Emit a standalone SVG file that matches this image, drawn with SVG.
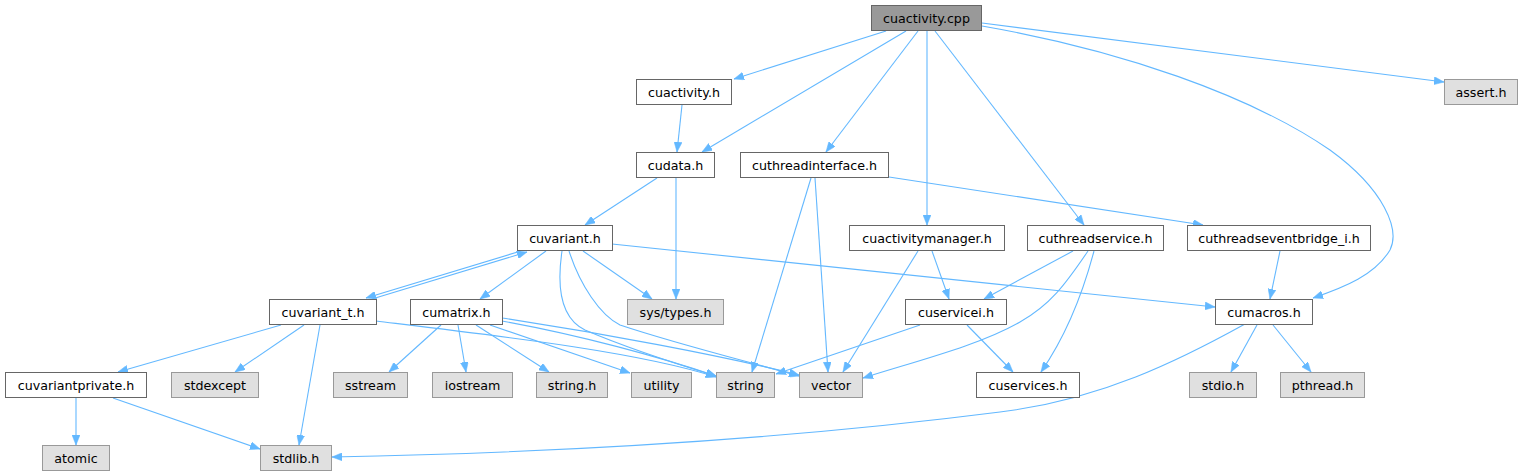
<svg xmlns="http://www.w3.org/2000/svg" width="1532" height="476" viewBox="0 0 1532 476">
<defs>
<marker id="arr" viewBox="0 0 10 8" refX="10" refY="4" markerWidth="10" markerHeight="8" markerUnits="userSpaceOnUse" orient="auto">
<path d="M0,0 L10,4 L0,8 z" fill="#63b8ff" stroke="#63b8ff" stroke-width="0.5"/>
</marker>
</defs>
<style>
.n rect{fill:#ffffff;stroke:#666666;stroke-width:1}
.s rect{fill:#e0e0e0;stroke:#999999;stroke-width:1}
.r rect{fill:#999999;stroke:#666666;stroke-width:1}
text{font-family:"DejaVu Sans","Liberation Sans",sans-serif;font-size:12.67px;fill:#000000;text-anchor:middle}
#edges path{fill:none;stroke:#63b8ff;stroke-width:1.1;marker-end:url(#arr)}
</style>
<rect width="1532" height="476" fill="#ffffff"/>
<g id="edges">
<path d="M886,31 L734,79"/>
<path d="M906,31 L702,152"/>
<path d="M918,31 L826,152"/>
<path d="M927,31 L927,225"/>
<path d="M935,31 L1084,225"/>
<path d="M982,23 L1444,82"/>
<path d="M982,26 C1120,50 1250,95 1330,150 C1385,190 1400,230 1390,250 C1375,275 1345,287 1313,298"/>
<path d="M682,105 L677,152"/>
<path d="M657,178 L585,225"/>
<path d="M676,178 L676,299"/>
<path d="M811,178 L752,372"/>
<path d="M815,178 L828,372"/>
<path d="M889,177 L1203,225"/>
<path d="M918,251 L843,372"/>
<path d="M932,251 L949,299"/>
<path d="M1073,251 L984,299"/>
<path d="M1088,251 C1065,285 1050,305 1020,322 C980,345 920,360 863,378"/>
<path d="M1094,251 C1085,285 1070,330 1041,372"/>
<path d="M1280,251 L1270,299"/>
<path d="M612,244 L1215,307"/>
<path d="M583,251 L652,299"/>
<path d="M546,251 L480,299"/>
<path d="M521,251 L366,298"/>
<path d="M372,299 L527,252"/>
<path d="M562,251 C557,285 560,318 585,330 C620,345 680,365 716,376"/>
<path d="M569,251 C580,285 600,315 620,325 C680,345 750,362 799,376"/>
<path d="M281,325 L118,372"/>
<path d="M304,325 L235,372"/>
<path d="M320,325 L299,445"/>
<path d="M376,321 C500,336 640,352 716,377"/>
<path d="M441,325 L389,372"/>
<path d="M458,325 L466,372"/>
<path d="M476,325 L549,372"/>
<path d="M490,325 L630,373"/>
<path d="M502,321 C580,335 660,357 716,376"/>
<path d="M502,318 C600,333 720,355 799,375"/>
<path d="M920,325 L776,374"/>
<path d="M967,325 L1013,372"/>
<path d="M1245,324 C1180,360 1100,400 1000,412 C820,435 600,452 332,457"/>
<path d="M1257,325 L1231,372"/>
<path d="M1273,325 L1311,372"/>
<path d="M76,398 L76,445"/>
<path d="M113,398 L260,449"/>
</g>
<g id="cuactivity_cpp" class="r"><rect x="871.5" y="5.5" width="110" height="25"/><text x="926.5" y="22.5">cuactivity.cpp</text></g>
<g id="cuactivity_h" class="n"><rect x="636.5" y="79.5" width="95" height="25"/><text x="684" y="96.5">cuactivity.h</text></g>
<g id="assert_h" class="s"><rect x="1444.5" y="79.5" width="73" height="25"/><text x="1481" y="96.5">assert.h</text></g>
<g id="cudata_h" class="n"><rect x="636.5" y="152.5" width="78" height="25"/><text x="675.5" y="169.5">cudata.h</text></g>
<g id="cuthreadinterface_h" class="n"><rect x="740.5" y="152.5" width="148" height="25"/><text x="814.5" y="169.5">cuthreadinterface.h</text></g>
<g id="cuvariant_h" class="n"><rect x="517.5" y="225.5" width="95" height="25"/><text x="565" y="242.5">cuvariant.h</text></g>
<g id="cuactivitymanager_h" class="n"><rect x="849.5" y="225.5" width="155" height="25"/><text x="927" y="242.5">cuactivitymanager.h</text></g>
<g id="cuthreadservice_h" class="n"><rect x="1027.5" y="225.5" width="136" height="25"/><text x="1095.5" y="242.5">cuthreadservice.h</text></g>
<g id="cuthreadseventbridge_i_h" class="n"><rect x="1187.5" y="225.5" width="183" height="25"/><text x="1279" y="242.5">cuthreadseventbridge_i.h</text></g>
<g id="cuvariant_t_h" class="n"><rect x="269.5" y="299.5" width="107" height="25"/><text x="323" y="316.5">cuvariant_t.h</text></g>
<g id="cumatrix_h" class="n"><rect x="410.5" y="299.5" width="92" height="25"/><text x="456.5" y="316.5">cumatrix.h</text></g>
<g id="sys_types_h" class="s"><rect x="627.5" y="299.5" width="96" height="25"/><text x="675.5" y="316.5">sys/types.h</text></g>
<g id="cuservicei_h" class="n"><rect x="905.5" y="299.5" width="101" height="25"/><text x="956" y="316.5">cuservicei.h</text></g>
<g id="cumacros_h" class="n"><rect x="1215.5" y="299.5" width="97" height="25"/><text x="1264" y="316.5">cumacros.h</text></g>
<g id="cuvariantprivate_h" class="n"><rect x="5.5" y="372.5" width="141" height="25"/><text x="76" y="389.5">cuvariantprivate.h</text></g>
<g id="stdexcept" class="s"><rect x="171.5" y="372.5" width="87" height="25"/><text x="215" y="389.5">stdexcept</text></g>
<g id="sstream" class="s"><rect x="333.5" y="372.5" width="74" height="25"/><text x="370.5" y="389.5">sstream</text></g>
<g id="iostream" class="s"><rect x="432.5" y="372.5" width="80" height="25"/><text x="472.5" y="389.5">iostream</text></g>
<g id="string_h" class="s"><rect x="536.5" y="372.5" width="71" height="25"/><text x="572" y="389.5">string.h</text></g>
<g id="utility" class="s"><rect x="631.5" y="372.5" width="60" height="25"/><text x="661.5" y="389.5">utility</text></g>
<g id="string" class="s"><rect x="716.5" y="372.5" width="58" height="25"/><text x="745.5" y="389.5">string</text></g>
<g id="vector" class="s"><rect x="799.5" y="372.5" width="63" height="25"/><text x="831" y="389.5">vector</text></g>
<g id="cuservices_h" class="n"><rect x="976.5" y="372.5" width="103" height="25"/><text x="1028" y="389.5">cuservices.h</text></g>
<g id="stdio_h" class="s"><rect x="1189.5" y="372.5" width="67" height="25"/><text x="1223" y="389.5">stdio.h</text></g>
<g id="pthread_h" class="s"><rect x="1280.5" y="372.5" width="84" height="25"/><text x="1322.5" y="389.5">pthread.h</text></g>
<g id="atomic" class="s"><rect x="42.5" y="445.5" width="67" height="25"/><text x="76" y="462.5">atomic</text></g>
<g id="stdlib_h" class="s"><rect x="260.5" y="445.5" width="71" height="25"/><text x="296" y="462.5">stdlib.h</text></g>
</svg>
